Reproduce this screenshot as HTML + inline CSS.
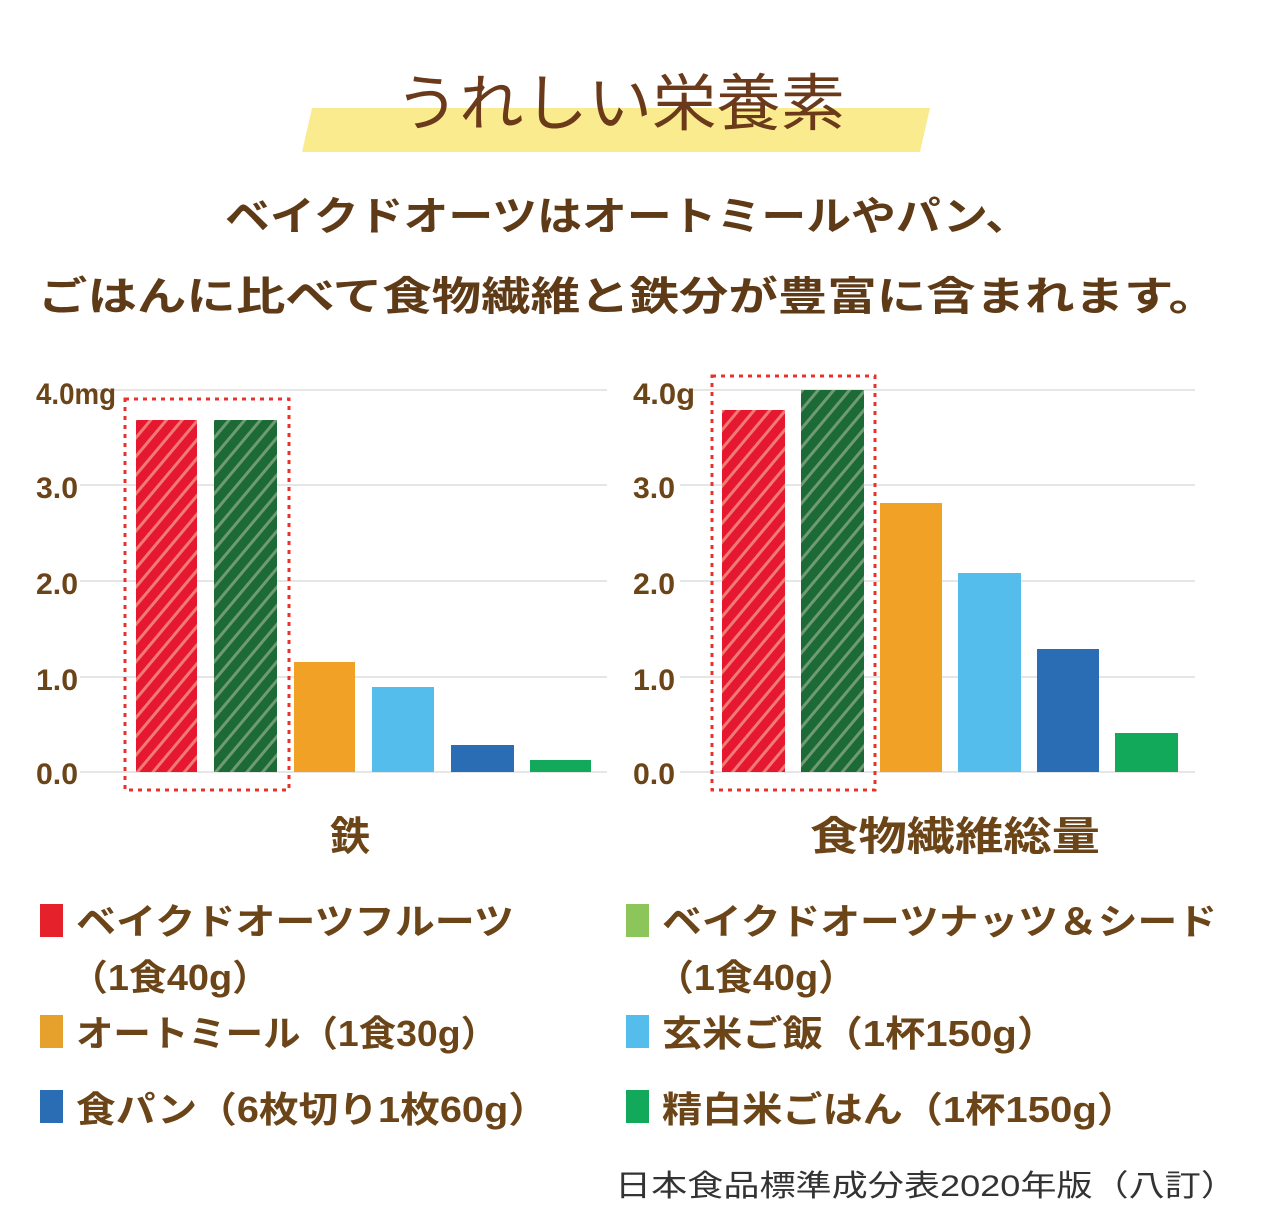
<!DOCTYPE html>
<html><head><meta charset="utf-8"><style>
html,body{margin:0;padding:0;background:#fff;}
svg{display:block;}
text{font-family:"Liberation Sans","Noto Sans CJK JP",sans-serif;}
</style></head><body>
<svg width="1280" height="1219" viewBox="0 0 1280 1219" xmlns="http://www.w3.org/2000/svg">
<defs>
<pattern id="hr" width="12" height="12" patternUnits="userSpaceOnUse" patternTransform="rotate(40)">
<rect width="12" height="12" fill="#e5182f"/><rect x="0" width="3" height="12" fill="#f07a78"/></pattern>
<pattern id="hg" width="12" height="12" patternUnits="userSpaceOnUse" patternTransform="rotate(40)">
<rect width="12" height="12" fill="#1c6b36"/><rect x="0" width="3" height="12" fill="#6f9a72"/></pattern>
</defs>
<rect width="1280" height="1219" fill="#fff"/>
<polygon points="312,108 930,108 920,152 302,152" fill="#faec8e"/>
<text x="620" y="125" font-size="62" fill="#6b3a1a" text-anchor="middle" textLength="450" lengthAdjust="spacingAndGlyphs">うれしい栄養素</text>
<g fill="#5e3a17" font-weight="bold" font-size="40">
<text x="225" y="230" textLength="805" lengthAdjust="spacingAndGlyphs">ベイクドオーツはオートミールやパン、</text>
<text x="38" y="310" textLength="1180" lengthAdjust="spacingAndGlyphs">ごはんに比べて食物繊維と鉄分が豊富に含まれます。</text>
</g>
<g stroke="#e6e6e6" stroke-width="2">
<line x1="80" y1="390" x2="607" y2="390"/><line x1="80" y1="485" x2="607" y2="485"/><line x1="80" y1="581" x2="607" y2="581"/><line x1="80" y1="677" x2="607" y2="677"/><line x1="80" y1="772" x2="607" y2="772"/>
<line x1="690" y1="390" x2="1195" y2="390"/><line x1="680" y1="485" x2="1195" y2="485"/><line x1="680" y1="581" x2="1195" y2="581"/><line x1="680" y1="677" x2="1195" y2="677"/><line x1="680" y1="772" x2="1195" y2="772"/>
</g>
<g fill="#6b4418" font-weight="bold" font-size="30">
<text x="36" y="404" textLength="80" lengthAdjust="spacingAndGlyphs">4.0mg</text>
<text x="36" y="498" textLength="42" lengthAdjust="spacingAndGlyphs">3.0</text>
<text x="36" y="594" textLength="42" lengthAdjust="spacingAndGlyphs">2.0</text>
<text x="36" y="690" textLength="42" lengthAdjust="spacingAndGlyphs">1.0</text>
<text x="36" y="784" textLength="42" lengthAdjust="spacingAndGlyphs">0.0</text>
<text x="633" y="404" textLength="62" lengthAdjust="spacingAndGlyphs">4.0g</text>
<text x="633" y="498" textLength="42" lengthAdjust="spacingAndGlyphs">3.0</text>
<text x="633" y="594" textLength="42" lengthAdjust="spacingAndGlyphs">2.0</text>
<text x="633" y="690" textLength="42" lengthAdjust="spacingAndGlyphs">1.0</text>
<text x="633" y="784" textLength="42" lengthAdjust="spacingAndGlyphs">0.0</text>
</g>
<rect x="136" y="420" width="61" height="352" fill="url(#hr)"/>
<rect x="214" y="420" width="63" height="352" fill="url(#hg)"/>
<rect x="294" y="662" width="61" height="110" fill="#f2a127"/>
<rect x="372" y="687" width="62" height="85" fill="#55bdeb"/>
<rect x="451" y="745" width="63" height="27" fill="#2a6db5"/>
<rect x="530" y="760" width="61" height="12" fill="#13a95a"/>
<rect x="125" y="399" width="164" height="391" fill="none" stroke="#e8332c" stroke-width="3" stroke-dasharray="4,5"/>
<rect x="722" y="410" width="63" height="362" fill="url(#hr)"/>
<rect x="801" y="390" width="63" height="382" fill="url(#hg)"/>
<rect x="880" y="503" width="62" height="269" fill="#f2a127"/>
<rect x="958" y="573" width="63" height="199" fill="#55bdeb"/>
<rect x="1037" y="649" width="62" height="123" fill="#2a6db5"/>
<rect x="1115" y="733" width="63" height="39" fill="#13a95a"/>
<rect x="712" y="376" width="163" height="414" fill="none" stroke="#e8332c" stroke-width="3" stroke-dasharray="4,5"/>
<g fill="#6b4418" font-weight="bold" font-size="40">
<text x="350" y="850" text-anchor="middle">鉄</text>
<text x="955" y="850" text-anchor="middle" textLength="290" lengthAdjust="spacingAndGlyphs">食物繊維総量</text>
</g>
<rect x="40" y="904" width="23" height="33" fill="#e5212b"/>
<rect x="40" y="1015" width="23" height="33" fill="#e6a02c"/>
<rect x="40" y="1090" width="23" height="33" fill="#2a6db5"/>
<rect x="626" y="904" width="23" height="33" fill="#8cc55a"/>
<rect x="626" y="1015" width="23" height="33" fill="#55bdeb"/>
<rect x="626" y="1090" width="23" height="33" fill="#13a95a"/>
<g fill="#6b4418" font-weight="bold" font-size="36">
<text x="76" y="934" textLength="438" lengthAdjust="spacingAndGlyphs">ベイクドオーツフルーツ</text>
<text x="70" y="990" textLength="200" lengthAdjust="spacingAndGlyphs">（1食40g）</text>
<text x="76" y="1046" textLength="422" lengthAdjust="spacingAndGlyphs">オートミール（1食30g）</text>
<text x="76" y="1122" textLength="472" lengthAdjust="spacingAndGlyphs">食パン（6枚切り1枚60g）</text>
<text x="662" y="934" textLength="555" lengthAdjust="spacingAndGlyphs">ベイクドオーツナッツ＆シード</text>
<text x="656" y="990" textLength="200" lengthAdjust="spacingAndGlyphs">（1食40g）</text>
<text x="662" y="1046" textLength="395" lengthAdjust="spacingAndGlyphs">玄米ご飯（1杯150g）</text>
<text x="662" y="1122" textLength="475" lengthAdjust="spacingAndGlyphs">精白米ごはん（1杯150g）</text>
</g>
<text x="615" y="1196" font-size="30" fill="#333" textLength="622" lengthAdjust="spacingAndGlyphs">日本食品標準成分表2020年版（八訂）</text>
</svg>
</body></html>
